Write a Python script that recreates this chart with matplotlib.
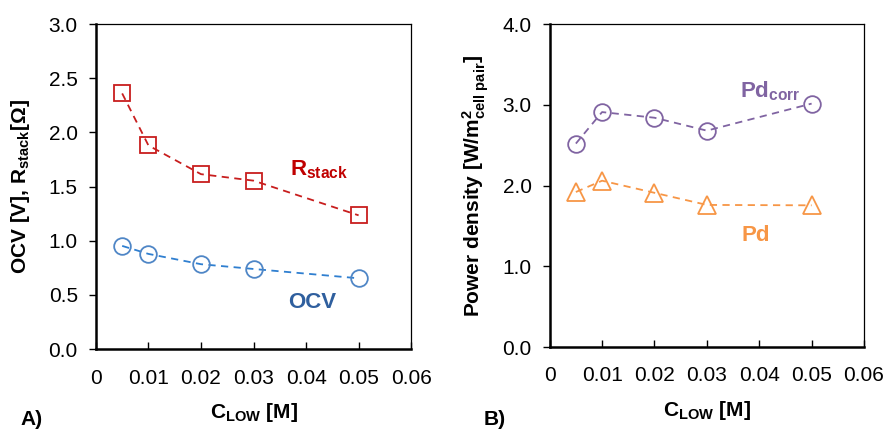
import matplotlib
matplotlib.use("Agg")
import matplotlib.pyplot as plt

plt.rcParams['font.family'] = ['Liberation Sans', 'DejaVu Sans']
plt.rcParams['mathtext.fontset'] = 'custom'
plt.rcParams['mathtext.rm'] = 'Liberation Sans'
plt.rcParams['mathtext.bf'] = 'Liberation Sans:bold'
plt.rcParams['mathtext.it'] = 'Liberation Sans:italic'

# Concentration of the low-salinity stream [M]
c_low = [0.005, 0.01, 0.02, 0.03, 0.05]

# Panel A
r_stack = [2.36, 1.88, 1.615, 1.555, 1.235]
ocv = [0.953, 0.879, 0.784, 0.740, 0.654]

# Panel B
pd_corr = [2.52, 2.91, 2.84, 2.68, 3.015]
pd = [1.92, 2.06, 1.91, 1.76, 1.755]

x_ticks = [0, 0.01, 0.02, 0.03, 0.04, 0.05, 0.06]
x_ticklabels = ['0', '0.01', '0.02', '0.03', '0.04', '0.05', '0.06']
ya_ticks = [0.0, 0.5, 1.0, 1.5, 2.0, 2.5, 3.0]
yb_ticks = [0.0, 1.0, 2.0, 3.0, 4.0]

RED = '#C81E1E'
RED_TXT = '#C00000'
BLUE = '#2F7FD0'
BLUE_TXT = '#2F5F9E'
PURPLE = '#8064A2'
ORANGE = '#F79646'

fig = plt.figure(figsize=(8.88, 4.30), dpi=100)
axA = fig.add_axes([0.108, 0.188, 0.355, 0.756])
axB = fig.add_axes([0.619, 0.193, 0.354, 0.751])

dash = (0, (4, 3))


def style_axes(ax, yticks):
    ax.set_xlim(0, 0.06)
    ax.set_ylim(yticks[0], yticks[-1])
    ax.set_xticks(x_ticks)
    ax.set_xticklabels(x_ticklabels)
    ax.set_yticks(yticks)
    ax.set_yticklabels([f'{v:.1f}' for v in yticks])
    ax.tick_params(axis='x', direction='in', length=5, width=1, labelsize=15, pad=14)
    ax.tick_params(axis='y', direction='out', length=5, width=1, labelsize=15, pad=8)
    for side in ['left', 'bottom']:
        ax.spines[side].set_linewidth(1.8)
    for side in ['top', 'right']:
        ax.spines[side].set_linewidth(0.9)
    ax.set_xlabel(r'C$_{\mathbf{LOW}}$ [M]', fontsize=15, fontweight='bold', labelpad=10)


# Panel A: stack resistance and open circuit voltage
axA.plot(c_low, r_stack, linestyle=dash, color=RED, lw=1.3, marker='s', ms=12,
         mfc='none', mec=RED, mew=1.3)
axA.plot(c_low, ocv, linestyle=dash, color=BLUE, lw=1.3, marker='o', ms=12,
         mfc='none', mec='#4F86C6', mew=1.3)
style_axes(axA, ya_ticks)
axA.set_ylabel(r'OCV [V], R$_{\mathbf{stack}}$[Ω]', fontsize=15, fontweight='bold', labelpad=12)
axA.text(0.037, 1.60, r'R$_{\mathbf{stack}}$', color=RED_TXT, fontsize=16,
         fontweight='bold', ha='left', va='baseline')
axA.text(0.0365, 0.38, 'OCV', color=BLUE_TXT, fontsize=16,
         fontweight='bold', ha='left', va='baseline')

# Panel B: power density
axB.plot(c_low, pd_corr, linestyle=dash, color=PURPLE, lw=1.3, marker='o', ms=12,
         mfc='none', mec=PURPLE, mew=1.3)
axB.plot(c_low, pd, linestyle=dash, color=ORANGE, lw=1.3, marker='^', ms=13,
         mfc='none', mec=ORANGE, mew=1.3)
style_axes(axB, yb_ticks)
axB.set_ylabel(r'Power density [W/m$^{\mathbf{2}}_{\mathbf{cell\ pair}}$]',
               fontsize=15, fontweight='bold', labelpad=8)
axB.text(0.0363, 3.09, r'Pd$_{\mathbf{corr}}$', color=PURPLE, fontsize=16,
         fontweight='bold', ha='left', va='baseline')
axB.text(0.0367, 1.315, 'Pd', color=ORANGE, fontsize=16,
         fontweight='bold', ha='left', va='baseline')

fig.text(20 / 888, 1 - 425 / 430, 'A)', fontsize=15, fontweight='bold', ha='left', va='baseline')
fig.text(484 / 888, 1 - 425 / 430, 'B)', fontsize=15, fontweight='bold', ha='left', va='baseline')

fig.savefig('out.png', dpi=100)
